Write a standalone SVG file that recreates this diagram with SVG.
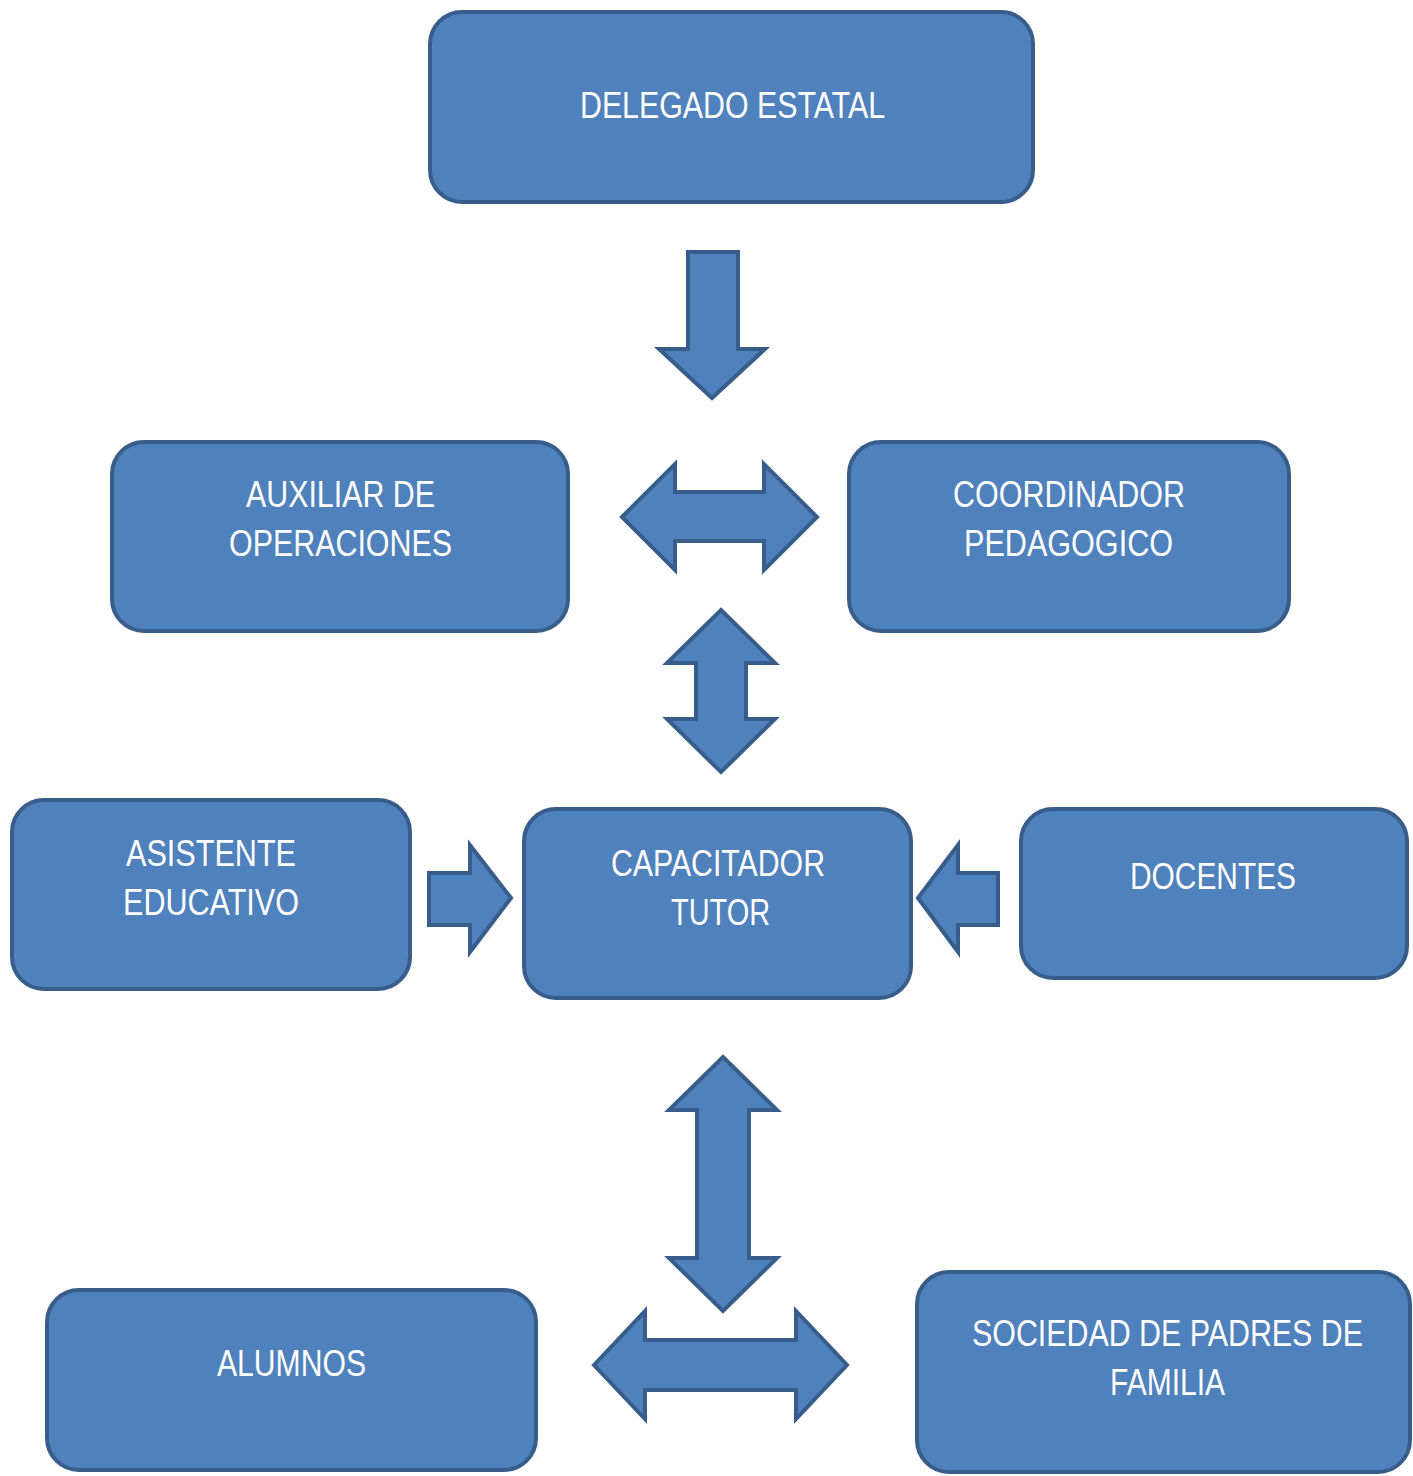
<svg xmlns="http://www.w3.org/2000/svg" width="1413" height="1476" viewBox="0 0 1413 1476">
<style>
.box{fill:#4F81BD;stroke:#385D8A;stroke-width:4}
.arr{fill:#4F81BD;stroke:#385D8A;stroke-width:4;stroke-linejoin:miter}
.t{fill:#FFFFFF;font-family:"Liberation Sans Narrow","Arial Narrow","Liberation Sans",Arial,sans-serif;font-size:36px;text-anchor:middle}
</style>
<rect width="1413" height="1476" fill="#FFFFFF"/>
<g id="connectors">
<polygon class="arr" points="688,252 738,252 738,349 765,349 712,398 659,349 688,349"/>
<polygon class="arr" points="622,517 675,464 675,492 764,492 764,464 817,517 764,570 764,541 675,541 675,570"/>
<polygon class="arr" points="721,610 775,663 746,663 746,719 775,719 721,772 667,719 696,719 696,663 667,663"/>
<polygon class="arr" points="429,873 470,873 470,845 511,898 470,952 470,925 429,925"/>
<polygon class="arr" points="918,898 958,845 958,873 998,873 998,925 958,925 958,952"/>
<polygon class="arr" points="723,1057 777,1110 749,1110 749,1258 777,1258 723,1311 669,1258 697,1258 697,1110 669,1110"/>
<polygon class="arr" points="594,1365 645,1311 645,1340 796,1340 796,1311 847,1365 796,1419 796,1390 645,1390 645,1419"/>
</g>
<g id="delegado">
<rect class="box" x="430" y="12" width="603" height="190" rx="32"/>
<text class="t" x="732.5" y="118" textLength="305" lengthAdjust="spacingAndGlyphs">DELEGADO ESTATAL</text>
</g>
<g id="auxiliar">
<rect class="box" x="112" y="442" width="456" height="189" rx="32"/>
<text class="t" x="340.5" y="507" textLength="189" lengthAdjust="spacingAndGlyphs">AUXILIAR DE</text>
<text class="t" x="340.5" y="556" textLength="223" lengthAdjust="spacingAndGlyphs">OPERACIONES</text>
</g>
<g id="coordinador">
<rect class="box" x="849" y="442" width="440" height="189" rx="32"/>
<text class="t" x="1069" y="507" textLength="232" lengthAdjust="spacingAndGlyphs">COORDINADOR</text>
<text class="t" x="1068.5" y="556" textLength="209" lengthAdjust="spacingAndGlyphs">PEDAGOGICO</text>
</g>
<g id="asistente">
<rect class="box" x="12" y="800" width="398" height="189" rx="32"/>
<text class="t" x="211" y="866" textLength="170" lengthAdjust="spacingAndGlyphs">ASISTENTE</text>
<text class="t" x="211" y="915" textLength="176" lengthAdjust="spacingAndGlyphs">EDUCATIVO</text>
</g>
<g id="capacitador">
<rect class="box" x="524" y="809" width="387" height="189" rx="32"/>
<text class="t" x="718" y="876" textLength="214" lengthAdjust="spacingAndGlyphs">CAPACITADOR</text>
<text class="t" x="720.5" y="925" textLength="99" lengthAdjust="spacingAndGlyphs">TUTOR</text>
</g>
<g id="docentes">
<rect class="box" x="1021" y="809" width="386" height="169" rx="32"/>
<text class="t" x="1213" y="889" textLength="166" lengthAdjust="spacingAndGlyphs">DOCENTES</text>
</g>
<g id="alumnos">
<rect class="box" x="47" y="1290" width="489" height="180" rx="32"/>
<text class="t" x="291.5" y="1376" textLength="149" lengthAdjust="spacingAndGlyphs">ALUMNOS</text>
</g>
<g id="sociedad">
<rect class="box" x="917" y="1272" width="493" height="200" rx="32"/>
<text class="t" x="1167.5" y="1346" textLength="391" lengthAdjust="spacingAndGlyphs">SOCIEDAD DE PADRES DE</text>
<text class="t" x="1167.5" y="1395" textLength="115" lengthAdjust="spacingAndGlyphs">FAMILIA</text>
</g>
</svg>
